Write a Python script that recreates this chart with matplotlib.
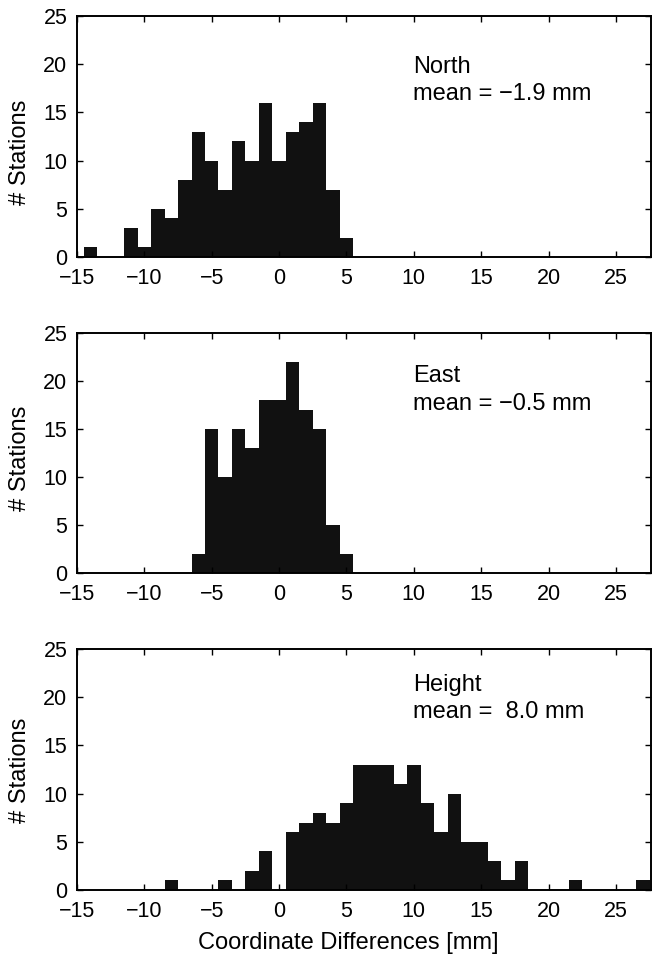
import numpy as np
import matplotlib
matplotlib.use("Agg")
import matplotlib.pyplot as plt

plt.rcParams['font.family'] = ['Liberation Sans', 'DejaVu Sans']

# Data (bin centres in mm, counts of stations)
north_centers = list(range(-14, 6))
north_counts = [1, 0, 0, 3, 1, 5, 4, 8, 13, 10, 7, 12, 10, 16, 10, 13, 14, 16, 7, 2]

east_centers = list(range(-6, 6))
east_counts = [2, 15, 10, 15, 13, 18, 18, 22, 17, 15, 5, 2]

height_centers = list(range(-8, 28))
height_counts = [1, 0, 0, 0, 1, 0, 2, 4, 0, 6, 7, 8, 7, 9, 13, 13, 13, 11, 13, 9,
                 6, 10, 5, 5, 3, 1, 3, 0, 0, 0, 1, 0, 0, 0, 0, 1]

labels = ["North", "East", "Height"]
mean_texts = ["mean = \u22121.9 mm", "mean = \u22120.5 mm", "mean =  8.0 mm"]
xticks = [-15, -10, -5, 0, 5, 10, 15, 20, 25]
yticks = [0, 5, 10, 15, 20, 25]

W, H = 652, 959
fig = plt.figure(figsize=(W / 100, H / 100), dpi=100)

# axes boxes in pixels: (left, top, right, bottom)
boxes = [(77, 16, 651, 257), (77, 332.7, 651, 572.7), (77, 649, 651, 890)]
text_base = [(19.06, 16.29), (19.83, 16.95), (20.67, 17.8)]
ylabel_centers = [152, 458, 770]
data = [(north_centers, north_counts), (east_centers, east_counts),
        (height_centers, height_counts)]

fs_tick = 15.5
fs = 17
for i, (box, (c, n)) in enumerate(zip(boxes, data)):
    l, t, r, b = box
    ax = fig.add_axes([l / W, 1 - b / H, (r - l) / W, (b - t) / H])
    ax.bar(c, n, width=1.0, color='#111111', edgecolor='none', linewidth=0)
    ax.set_xlim(-15, 27.6)
    ax.set_ylim(0, 25)
    ax.set_xticks(xticks)
    ax.set_yticks(yticks)
    ax.tick_params(direction='in', top=True, right=True, length=4.5, width=1.0,
                   labelsize=fs_tick, colors='black')
    ax.tick_params(axis='x', pad=8)
    ax.tick_params(axis='y', pad=7)
    for s in ax.spines.values():
        s.set_linewidth(1.4)
    ax.set_ylabel("# Stations", fontsize=fs, va='center')
    yc = (b - ylabel_centers[i]) / (b - t)
    ax.yaxis.set_label_coords((20 - l) / (r - l), yc)
    y1, y2 = text_base[i]
    ax.text(9.95, y1, labels[i], fontsize=fs, va='baseline', ha='left')
    ax.text(9.95, y2, mean_texts[i], fontsize=fs, va='baseline', ha='left')
    if i == 2:
        ax.set_xlabel("Coordinate Differences [mm]", fontsize=fs, va='center')
        ax.xaxis.set_label_coords((348 - l) / (r - l), (b - 943) / (b - t))

fig.savefig("out.png", dpi=100)
